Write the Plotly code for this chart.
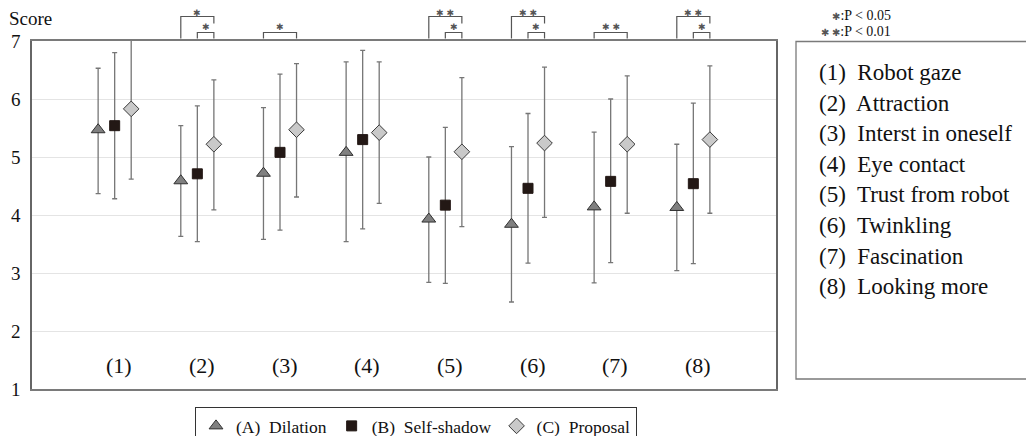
import numpy as np
import plotly.graph_objects as go

# ---------------- data ----------------
categories = ["(1)", "(2)", "(3)", "(4)", "(5)", "(6)", "(7)", "(8)"]
items = ["Robot gaze", "Attraction", "Interst in oneself", "Eye contact",
         "Trust from robot", "Twinkling", "Fascination", "Looking more"]
series_names = ["(A)\u00a0 Dilation", "(B)\u00a0 Self-shadow", "(C)\u00a0 Proposal"]

dilation_mean = [5.47, 4.59, 4.72, 5.08, 3.93, 3.84, 4.14, 4.13]
dilation_upper = [6.53, 5.54, 5.85, 6.64, 5.00, 5.18, 5.43, 5.22]
dilation_lower = [4.37, 3.63, 3.58, 3.54, 2.84, 2.50, 2.83, 3.04]

selfshadow_mean = [5.54, 4.71, 5.08, 5.30, 4.17, 4.46, 4.58, 4.54]
selfshadow_upper = [6.80, 5.88, 6.43, 6.84, 5.51, 5.75, 6.00, 5.93]
selfshadow_lower = [4.28, 3.54, 3.74, 3.76, 2.82, 3.17, 3.18, 3.16]

proposal_mean = [5.83, 5.22, 5.47, 5.42, 5.09, 5.24, 5.22, 5.30]
proposal_upper = [7.10, 6.33, 6.61, 6.64, 6.37, 6.55, 6.40, 6.57]
proposal_lower = [4.62, 4.09, 4.31, 4.20, 3.80, 3.96, 4.03, 4.03]

y_ticks = [1, 2, 3, 4, 5, 6, 7]

# significance: (category number, from series, to series, label)
significance = [
    (2, "A", "C", "✱"), (2, "B", "C", "✱"),
    (3, "A", "C", "✱"),
    (5, "A", "C", "✱ ✱"), (5, "B", "C", "✱"),
    (6, "A", "C", "✱ ✱"), (6, "B", "C", "✱"),
    (7, "A", "C", "✱ ✱"),
    (8, "A", "C", "✱ ✱"), (8, "B", "C", "✱"),
]
p_note_marks = ["✱", "✱ ✱"]
p_note_texts = [":P < 0.05", ":P < 0.01"]

# ---------------- layout geometry ----------------
# the page body has an 8px margin, so the figure is drawn 8px in from the corner
W, H = 1026, 428
PLOT_L_PX, PLOT_R_PX, PLOT_T_PX, PLOT_B_PX = 32, 776, 41, 389   # as seen on screen
PW, PH = PLOT_R_PX - PLOT_L_PX, PLOT_B_PX - PLOT_T_PX
ML, MT = PLOT_L_PX - 8, PLOT_T_PX - 8
MR, MB = W - ML - PW, H - MT - PH
X_RANGE = [0, 9]
OFFSETS = {"A": -0.2, "B": 0.0, "C": 0.2}

SERIF = '"Liberation Serif", "Times New Roman", "DejaVu Sans", serif'
STAR_FONT = '"DejaVu Sans", sans-serif'
GREY_LINE = "#7a7a7a"
ERR_COL = "#767676"


def px2py(py):
    """screen pixel row -> paper y"""
    return (PLOT_B_PX - py) / PH


def px2px(px):
    """screen pixel column -> paper x"""
    return (px - PLOT_L_PX) / PW


def dx2paper(x):
    return (x - X_RANGE[0]) / (X_RANGE[1] - X_RANGE[0])


xs = np.arange(1, len(categories) + 1)

series = [
    ("A", dilation_mean, dilation_upper, dilation_lower,
     dict(symbol="triangle-up", size=12, color="#808080", line=dict(color="#303030", width=1))),
    ("B", selfshadow_mean, selfshadow_upper, selfshadow_lower,
     dict(symbol="square", size=10, color="#231815", line=dict(color="#231815", width=1))),
    ("C", proposal_mean, proposal_upper, proposal_lower,
     dict(symbol="diamond", size=12, color="#c9c9c9", line=dict(color="#3a3a3a", width=1))),
]

fig = go.Figure()
for (key, m, u, l, mk), name in zip(series, series_names):
    m, u, l = np.array(m), np.array(u), np.array(l)
    fig.add_trace(go.Scatter(
        x=xs + OFFSETS[key], y=m, mode="markers", name=name,
        marker=mk,
        error_y=dict(type="data", symmetric=False, array=u - m, arrayminus=m - l,
                     color=ERR_COL, thickness=1.3, width=2.5),
    ))

annotations = []
shapes = []

# category labels inside plot
for i, c in enumerate(categories):
    annotations.append(dict(x=xs[i] + 0.055, y=1.4, xref="x", yref="y", text=c,
                            showarrow=False, font=dict(family=SERIF, size=22, color="#111")))

# "Score" label
annotations.append(dict(x=px2px(7), y=px2py(18), xref="paper", yref="paper", text="Score",
                        xanchor="left", yanchor="middle", showarrow=False,
                        font=dict(family=SERIF, size=19, color="#111")))

# significance brackets
groups_with_bc = {g for g, a, b, s in significance if a == "B"}
for g, a, b, lab in significance:
    x0 = dx2paper(g + OFFSETS[a])
    x1 = dx2paper(g + OFFSETS[b])
    ybot = px2py(38.5)
    if a == "A" and g in groups_with_bc:
        ytop = px2py(16.5)
        yright = px2py(23.5)
        ystar = px2py(13.2)
    else:
        ytop = px2py(32.5)
        yright = ybot
        ystar = px2py(27)
    shapes.append(dict(type="path", xref="paper", yref="paper",
                       path=f"M {x0},{ybot} L {x0},{ytop} L {x1},{ytop} L {x1},{yright}",
                       line=dict(color="#555", width=1.2)))
    annotations.append(dict(x=(x0 + x1) / 2, y=ystar, xref="paper", yref="paper", text=lab,
                            showarrow=False, xanchor="center", yanchor="middle",
                            borderpad=0,
                            font=dict(family=STAR_FONT, size=9, color="#555")))

# p-value notes (top right)
for i, (mk, t) in enumerate(zip(p_note_marks, p_note_texts)):
    txt = f'<span style="font-size:10px;color:#555">{mk}</span>{t}'
    annotations.append(dict(x=px2px(893), y=px2py(15 + 17 * i), xref="paper", yref="paper",
                            text=txt, showarrow=False, xanchor="right", yanchor="middle",
                            font=dict(family=SERIF, size=14, color="#111")))

# right panel with item descriptions
shapes.append(dict(type="rect", xref="paper", yref="paper",
                   x0=px2px(796), x1=px2px(1031), y0=px2py(379), y1=px2py(41.5),
                   line=dict(color=GREY_LINE, width=1.3)))
for i, (c, t) in enumerate(zip(categories, items)):
    annotations.append(dict(x=px2px(817), y=px2py(72.5 + 30.6 * i), xref="paper", yref="paper",
                            text=f"{c}\u00a0 {t}", showarrow=False, xanchor="left",
                            yanchor="middle",
                            font=dict(family=SERIF, size=23, color="#111")))

fig.update_layout(
    width=W, height=H,
    margin=dict(l=ML, r=MR, t=MT, b=MB, autoexpand=False),
    paper_bgcolor="white", plot_bgcolor="white",
    font=dict(family=SERIF, color="#111"),
    showlegend=True,
    legend=dict(orientation="h", x=px2px(195), y=px2py(407), xanchor="left", yanchor="top",
                bordercolor="#333", borderwidth=1, bgcolor="white",
                font=dict(family=SERIF, size=17.5, color="#111"), itemwidth=30),
    xaxis=dict(range=X_RANGE, showticklabels=False, showgrid=False, zeroline=False,
               showline=True, mirror=True, linecolor=GREY_LINE, linewidth=2, ticks=""),
    yaxis=dict(range=[1, 7], tickvals=y_ticks, ticktext=[str(v) for v in y_ticks],
               showgrid=True, gridcolor="#e4e4e4", gridwidth=1.2, zeroline=False,
               showline=True, mirror=True, linecolor="#666", linewidth=1.5, ticks="",
               ticklabelstandoff=6, tickfont=dict(family=SERIF, size=19, color="#111")),
    annotations=annotations,
    shapes=shapes,
)

fig.write_html("out.html")
